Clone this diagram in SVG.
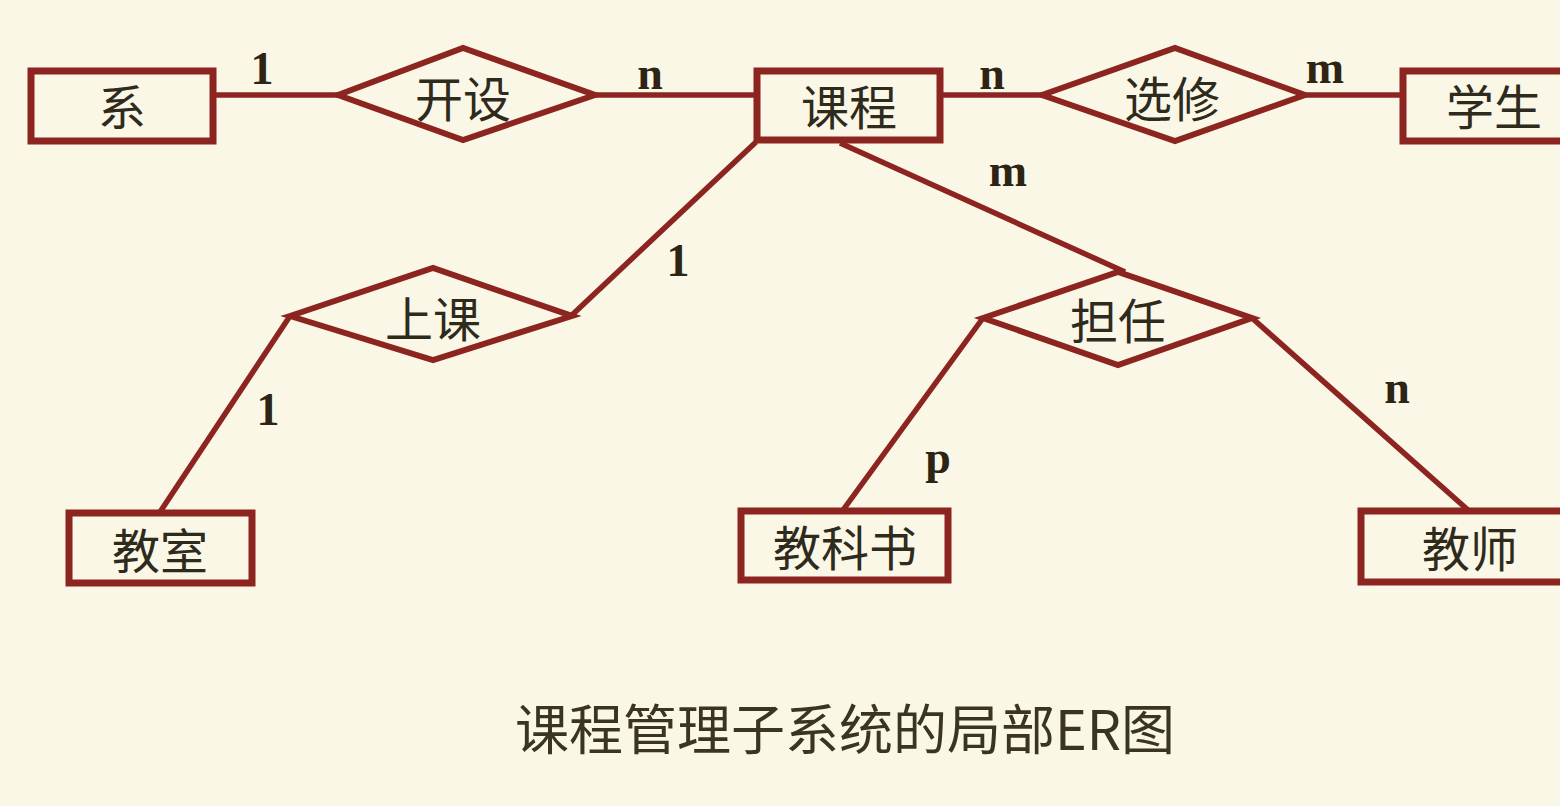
<svg xmlns="http://www.w3.org/2000/svg" width="1560" height="806" viewBox="0 0 1560 806">
<style>
.ent{fill:none;stroke:#8c2420;stroke-width:7}
.rel{fill:none;stroke:#8c2420;stroke-width:6;stroke-linejoin:miter}
.ln{stroke:#8c2420;stroke-width:5.5;fill:none}
.lbl{font-family:"Noto Sans CJK SC",sans-serif;font-size:48px;fill:#2e2a1c;text-anchor:middle;dominant-baseline:central}
.card{font-family:"Liberation Serif",serif;font-weight:bold;font-size:46px;fill:#2e2414;text-anchor:middle}
.cap{font-family:"Noto Sans CJK SC",sans-serif;font-size:54px;fill:#3a3424;text-anchor:middle}
</style>
<rect width="1560" height="806" fill="#fbf7e7"/>
<g id="connectors">
<line class="ln" x1="214" y1="95" x2="338" y2="95"/>
<line class="ln" x1="595" y1="95" x2="756" y2="95"/>
<line class="ln" x1="940" y1="95" x2="1042" y2="95"/>
<line class="ln" x1="1305" y1="95" x2="1402" y2="95"/>
<line class="ln" x1="756" y1="142" x2="572" y2="315"/>
<line class="ln" x1="290" y1="316" x2="160" y2="512"/>
<line class="ln" x1="840" y1="143" x2="1125" y2="272"/>
<line class="ln" x1="983" y1="318" x2="843" y2="510"/>
<line class="ln" x1="1252" y1="318" x2="1468" y2="510"/>
<text class="card" x="262" y="84">1</text>
<text class="card" x="650" y="89">n</text>
<text class="card" x="992" y="89">n</text>
<text class="card" x="1325" y="83">m</text>
<text class="card" x="678" y="276">1</text>
<text class="card" x="268" y="425">1</text>
<text class="card" x="1008" y="186">m</text>
<text class="card" x="938" y="473">p</text>
<text class="card" x="1397" y="403">n</text>
</g>
<g id="xi"><rect class="ent" x="31" y="71" width="182" height="70"/><text class="lbl" x="122" y="104">系</text></g>
<g id="kaishe"><polygon class="rel" points="338,95 463,48 595,95 463,140"/><text class="lbl" x="463" y="96">开设</text></g>
<g id="kecheng"><rect class="ent" x="757" y="71" width="183" height="69"/><text class="lbl" x="849" y="104">课程</text></g>
<g id="xuanxiu"><polygon class="rel" points="1042,95 1175,48 1305,95 1175,141"/><text class="lbl" x="1172" y="96">选修</text></g>
<g id="xuesheng"><rect class="ent" x="1403" y="71" width="170" height="70"/><text class="lbl" x="1494" y="104">学生</text></g>
<g id="shangke"><polygon class="rel" points="290,316 433,268 572,316 433,360"/><text class="lbl" x="433" y="316">上课</text></g>
<g id="jiaoshi"><rect class="ent" x="69" y="513" width="183" height="70"/><text class="lbl" x="160" y="548">教室</text></g>
<g id="danren"><polygon class="rel" points="983,318 1118,272 1252,318 1118,365"/><text class="lbl" x="1118" y="318">担任</text></g>
<g id="jiaokeshu"><rect class="ent" x="741" y="511" width="207" height="69"/><text class="lbl" x="845" y="545">教科书</text></g>
<g id="jiaoshi2"><rect class="ent" x="1361" y="511" width="210" height="71"/><text class="lbl" x="1470" y="546">教师</text></g>
<g id="caption"><text class="cap" x="845" y="750">课程管理子系统的局部ER图</text></g>
</svg>
